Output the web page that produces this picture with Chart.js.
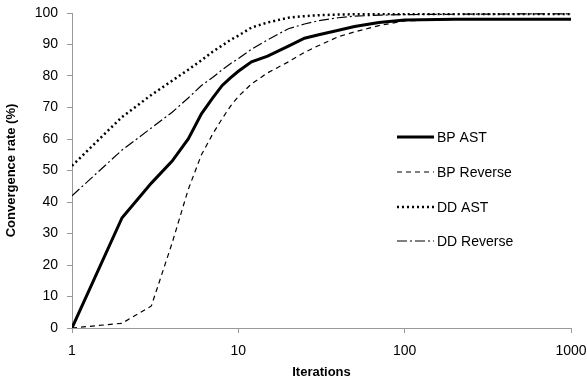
<!DOCTYPE html>
<html lang="en">
  <head>
    <meta charset="UTF-8" />
    <title>Convergence rate</title>
    <script src="https://cdn.jsdelivr.net/npm/chart.js"></script>
    <style>
      html, body { margin: 0; padding: 0; background: #fff; }
      #wrap { width: 587px; height: 384px; }
    </style>
  </head>
  <body>
    <div id="wrap"><canvas id="chart" width="587" height="384"></canvas></div>
    <script>
      const iterations = [1, 2, 3, 4, 5, 6, 7, 8, 9, 10, 12, 15, 20, 25, 30, 40, 50, 70, 100, 200, 500, 1000];
      const bpAst      = [0, 35, 46, 53, 60, 68, 73, 77, 79.5, 81.5, 84.5, 86.3, 89.5, 92, 93, 94.5, 95.7, 97, 97.8, 98, 98, 98];
      const bpReverse  = [0, 1.5, 7, 27, 44, 55, 61.5, 66.5, 70.5, 73.5, 77.5, 81, 84.5, 87.5, 89.5, 92.5, 94, 96, 97.5, 98, 98, 98];
      const ddAst      = [51.5, 67, 74, 78.5, 82, 85, 87.7, 89.7, 91.5, 92.8, 95.4, 97, 98.5, 99, 99.3, 99.5, 99.6, 99.7, 99.7, 99.7, 99.7, 99.7];
      const ddReverse  = [42, 56.5, 63.5, 68.5, 73, 77, 79.5, 82, 84, 85.5, 88.5, 91.5, 95, 96.5, 97.5, 98.5, 99, 99.3, 99.5, 99.6, 99.7, 99.7];

      const seriesNames = ["BP AST", "BP Reverse", "DD AST", "DD Reverse"];
      const xTicks = [1, 10, 100, 1000];
      const fontFamily = "'Liberation Sans', Arial, sans-serif";

      const toPoints = (vals) => vals.map((v, i) => ({ x: iterations[i], y: v }));

      // legend drawn inside the plot area, right side
      const innerLegend = {
        id: "innerLegend",
        afterDraw(chart) {
          const ctx = chart.ctx;
          const x0 = 397, x1 = 434, tx = 437;
          const ys = [137, 172, 207, 241];
          ctx.save();
          chart.data.datasets.forEach((ds, i) => {
            ctx.beginPath();
            ctx.strokeStyle = "#000";
            ctx.lineWidth = ds.borderWidth;
            ctx.setLineDash(ds.borderDash || []);
            ctx.moveTo(x0, ys[i]);
            ctx.lineTo(x1, ys[i]);
            ctx.stroke();
            ctx.setLineDash([]);
            ctx.fillStyle = "#000";
            ctx.font = "14px " + fontFamily;
            ctx.textBaseline = "middle";
            ctx.textAlign = "left";
            ctx.fillText(ds.label, tx, ys[i] + 1);
          });
          ctx.restore();
        },
      };

      new Chart(document.getElementById("chart"), {
        type: "line",
        data: {
          datasets: [
            { label: seriesNames[0], data: toPoints(bpAst), borderColor: "#000", borderWidth: 3, pointRadius: 0 },
            { label: seriesNames[1], data: toPoints(bpReverse), borderColor: "#000", borderWidth: 1.2, borderDash: [5, 4], pointRadius: 0 },
            { label: seriesNames[2], data: toPoints(ddAst), borderColor: "#000", borderWidth: 2.5, borderDash: [2, 3], pointRadius: 0 },
            { label: seriesNames[3], data: toPoints(ddReverse), borderColor: "#000", borderWidth: 1.2, borderDash: [10, 3, 2, 3], pointRadius: 0 },
          ],
        },
        options: {
          responsive: false,
          animation: false,
          layout: { padding: { left: 0, right: 16, top: 13, bottom: 0 } },
          plugins: { legend: { display: false }, tooltip: { enabled: false } },
          elements: { line: { tension: 0 } },
          scales: {
            x: {
              type: "logarithmic",
              min: 1,
              max: 1000,
              afterBuildTicks: (axis) => {
                axis.ticks = xTicks.map((v) => ({ value: v }));
              },
              afterFit: (axis) => {
                axis.height = 56;
                axis.paddingLeft = 0;
                axis.paddingRight = 0;
              },
              ticks: {
                color: "#000",
                font: { family: fontFamily, size: 14 },
                padding: 10,
                maxRotation: 0,
                callback: (v) => String(v),
              },
              grid: { drawOnChartArea: false, drawTicks: true, tickLength: 5, color: "#999" },
              border: { color: "#999" },
              title: {
                display: true,
                text: "Iterations",
                color: "#000",
                font: { family: fontFamily, size: 13, weight: "bold" },
                padding: { top: 0 },
              },
            },
            y: {
              min: 0,
              max: 100,
              afterFit: (axis) => {
                axis.width = 72;
                axis.paddingTop = 0;
                axis.paddingBottom = 0;
              },
              ticks: {
                stepSize: 10,
                color: "#000",
                font: { family: fontFamily, size: 14 },
                padding: 9,
              },
              grid: { drawOnChartArea: false, drawTicks: true, tickLength: 5, color: "#999" },
              border: { color: "#999" },
              title: {
                display: true,
                text: "Convergence rate (%)",
                color: "#000",
                font: { family: fontFamily, size: 13, weight: "bold" },
                padding: { bottom: 2 },
              },
            },
          },
        },
        plugins: [innerLegend],
      });
    </script>
  </body>
</html>
